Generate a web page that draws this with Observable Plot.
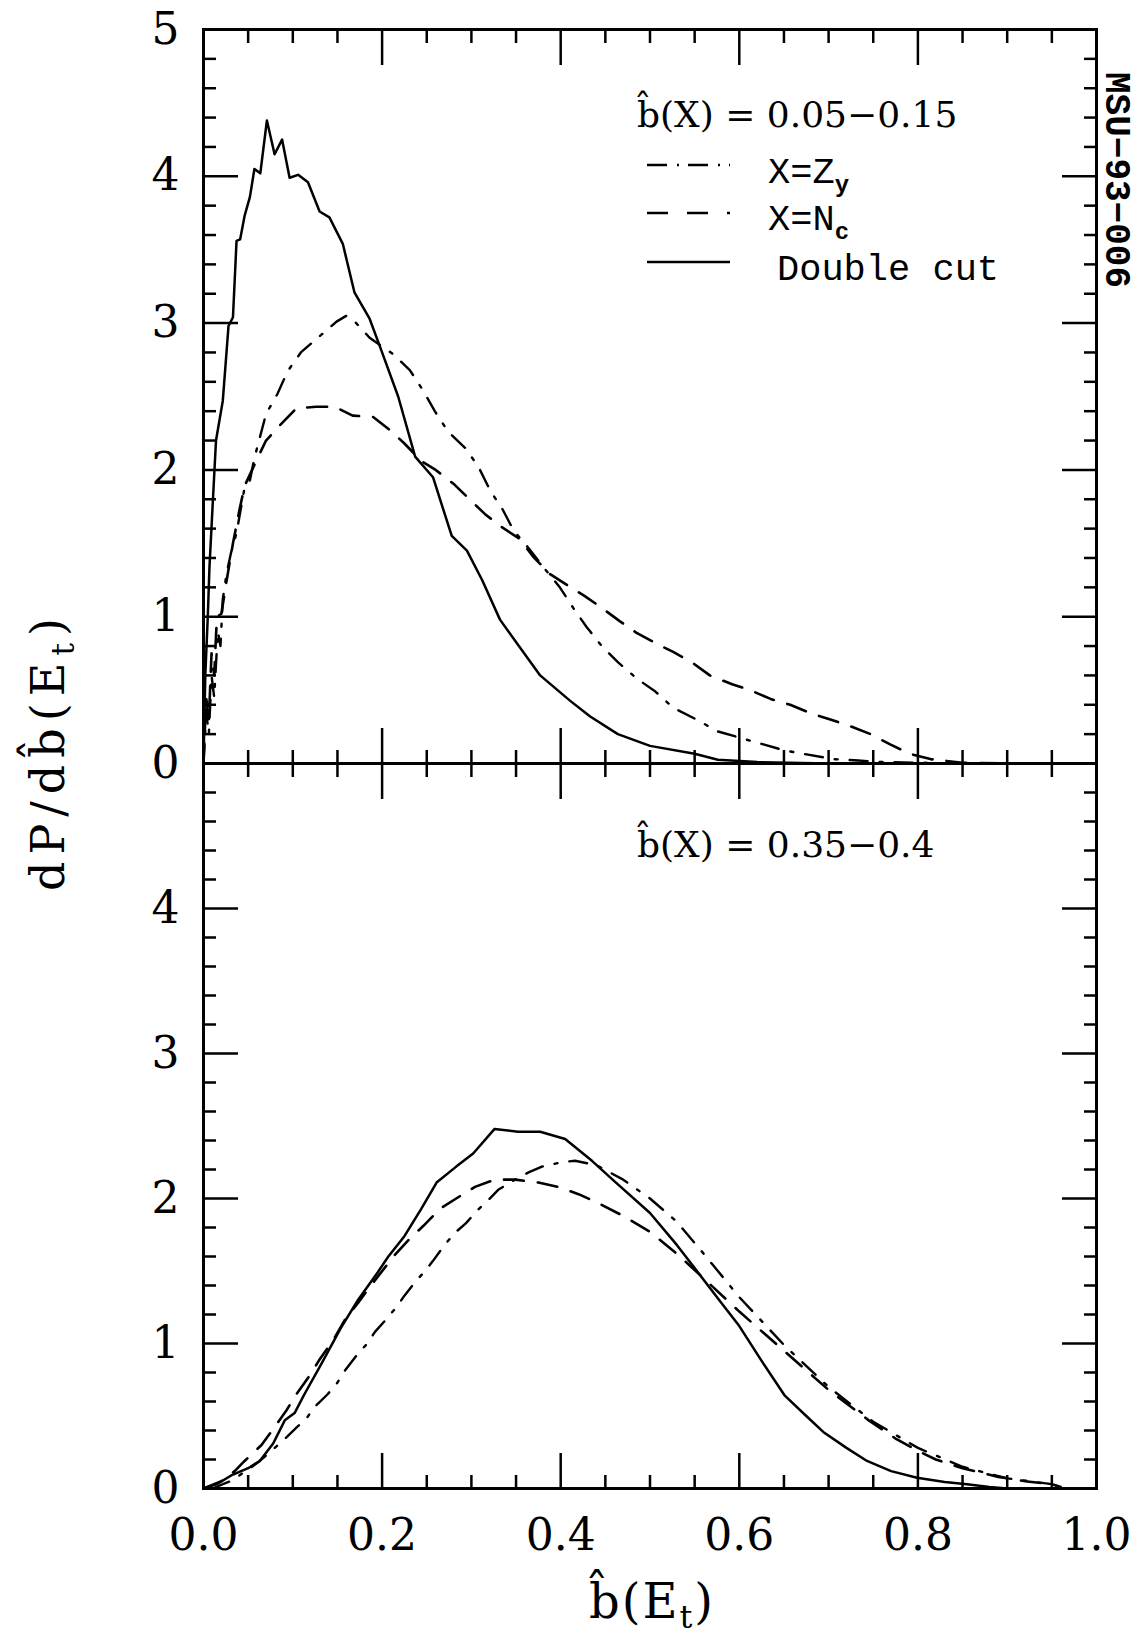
<!DOCTYPE html>
<html><head><meta charset="utf-8">
<script src="https://cdn.jsdelivr.net/npm/d3@7"></script>
<script src="https://cdn.jsdelivr.net/npm/@observablehq/plot@0.6"></script>
<style>
html,body{margin:0;padding:0;background:#fff;}
#wrap{position:relative;width:1137px;height:1639px;overflow:hidden;background:#fff;}
#wrap > svg{position:absolute;left:0;top:0;}
</style></head><body><div id="wrap"></div>
<script>
// ---- tick positions and labels ----
const xMajorTicks = [0, 0.2, 0.4, 0.6, 0.8, 1.0];
const xMinorTicks = [0.05, 0.1, 0.15, 0.25, 0.3, 0.35, 0.45, 0.5, 0.55, 0.65, 0.7, 0.75, 0.85, 0.9, 0.95];
const xTickLabels = [0, 0.2, 0.4, 0.6, 0.8, 1.0];
const yMajorTicks = [0, 1, 2, 3, 4, 5];
const yMinorTicks = [0.2, 0.4, 0.6, 0.8, 1.2, 1.4, 1.6, 1.8, 2.2, 2.4, 2.6, 2.8, 3.2, 3.4, 3.6, 3.8, 4.2, 4.4, 4.6, 4.8];
const topYLabels = [0, 1, 2, 3, 4, 5];
const bottomYLabels = [0, 1, 2, 3, 4];

// ---- series: top panel, b(X) = 0.05-0.15 ----
const topDouble = [[0,0],[0.002,0.6],[0.0048,1.0],[0.0067,1.34],[0.0105,1.79],[0.014,2.2],[0.0216,2.47],[0.028,2.98],[0.033,3.04],[0.037,3.56],[0.041,3.57],[0.046,3.73],[0.052,3.86],[0.057,4.05],[0.0636,4.02],[0.071,4.38],[0.0796,4.15],[0.088,4.25],[0.0964,3.99],[0.106,4.01],[0.117,3.96],[0.130,3.76],[0.141,3.72],[0.156,3.54],[0.169,3.21],[0.186,3.03],[0.197,2.85],[0.218,2.50],[0.237,2.09],[0.257,1.95],[0.278,1.55],[0.295,1.45],[0.312,1.25],[0.332,0.98],[0.377,0.60],[0.41,0.43],[0.433,0.32],[0.464,0.20],[0.5,0.12],[0.55,0.066],[0.576,0.025],[0.62,0.01],[0.7,0],[0.85,0]];
const topZy = [[0,0],[0.003,0.35],[0.006,0.2],[0.009,0.6],[0.012,0.45],[0.016,0.9],[0.019,0.8],[0.0216,1.12],[0.026,1.3],[0.031,1.44],[0.037,1.57],[0.046,1.88],[0.052,1.93],[0.057,2.08],[0.07,2.38],[0.083,2.52],[0.094,2.67],[0.109,2.80],[0.128,2.90],[0.149,3.01],[0.16,3.05],[0.171,3.0],[0.186,2.90],[0.212,2.79],[0.231,2.68],[0.246,2.54],[0.259,2.40],[0.274,2.26],[0.293,2.15],[0.308,2.02],[0.321,1.86],[0.335,1.73],[0.347,1.59],[0.365,1.46],[0.379,1.35],[0.399,1.20],[0.414,1.06],[0.429,0.93],[0.446,0.80],[0.464,0.69],[0.485,0.58],[0.506,0.49],[0.526,0.38],[0.552,0.30],[0.575,0.22],[0.601,0.175],[0.627,0.13],[0.65,0.09],[0.677,0.06],[0.705,0.03],[0.733,0.02],[0.76,0.01],[0.85,0]];
const topNc = [[0,0],[0.003,0.45],[0.006,0.3],[0.009,0.75],[0.012,0.6],[0.015,1.0],[0.02,1.02],[0.026,1.25],[0.033,1.5],[0.04,1.72],[0.046,1.89],[0.059,2.06],[0.07,2.2],[0.085,2.30],[0.104,2.42],[0.126,2.43],[0.147,2.43],[0.167,2.37],[0.19,2.36],[0.209,2.27],[0.225,2.18],[0.244,2.06],[0.26,2.0],[0.281,1.9],[0.298,1.80],[0.315,1.70],[0.334,1.61],[0.354,1.53],[0.369,1.41],[0.388,1.29],[0.406,1.22],[0.427,1.14],[0.446,1.06],[0.466,0.97],[0.485,0.89],[0.506,0.82],[0.526,0.76],[0.549,0.68],[0.567,0.60],[0.592,0.54],[0.612,0.50],[0.635,0.44],[0.657,0.40],[0.681,0.34],[0.702,0.30],[0.726,0.25],[0.747,0.20],[0.769,0.13],[0.791,0.066],[0.814,0.03],[0.85,0.005],[0.9,0]];

// ---- series: bottom panel, b(X) = 0.35-0.4 ----
const botDouble = [[0,0],[0.015,0.03],[0.031,0.09],[0.05,0.14],[0.063,0.19],[0.078,0.31],[0.091,0.47],[0.102,0.52],[0.113,0.65],[0.132,0.86],[0.154,1.11],[0.173,1.30],[0.195,1.49],[0.207,1.60],[0.225,1.74],[0.244,1.93],[0.261,2.11],[0.283,2.22],[0.302,2.31],[0.326,2.48],[0.352,2.46],[0.377,2.46],[0.405,2.41],[0.435,2.26],[0.46,2.12],[0.5,1.90],[0.53,1.68],[0.55,1.52],[0.58,1.28],[0.6,1.12],[0.625,0.88],[0.651,0.64],[0.675,0.50],[0.694,0.39],[0.72,0.28],[0.743,0.19],[0.77,0.12],[0.799,0.074],[0.83,0.045],[0.855,0.03],[0.88,0.01],[0.9,0]];
const botZy = [[0.01,0],[0.03,0.05],[0.05,0.13],[0.063,0.19],[0.076,0.26],[0.089,0.33],[0.104,0.42],[0.115,0.48],[0.124,0.56],[0.139,0.65],[0.15,0.73],[0.158,0.81],[0.173,0.93],[0.182,0.99],[0.192,1.08],[0.205,1.17],[0.216,1.25],[0.225,1.33],[0.238,1.43],[0.248,1.50],[0.257,1.57],[0.27,1.68],[0.281,1.76],[0.294,1.83],[0.307,1.92],[0.319,1.99],[0.33,2.06],[0.349,2.13],[0.364,2.18],[0.379,2.22],[0.401,2.25],[0.416,2.26],[0.44,2.23],[0.47,2.13],[0.5,2.0],[0.53,1.84],[0.56,1.62],[0.6,1.32],[0.65,0.99],[0.7,0.70],[0.75,0.46],[0.8,0.28],[0.85,0.15],[0.9,0.07],[0.95,0.03],[0.96,0.01]];
const botNc = [[0,0],[0.02,0.05],[0.035,0.12],[0.046,0.19],[0.065,0.30],[0.078,0.41],[0.093,0.54],[0.104,0.65],[0.119,0.78],[0.13,0.89],[0.145,1.02],[0.158,1.16],[0.173,1.28],[0.19,1.42],[0.214,1.61],[0.229,1.71],[0.246,1.81],[0.265,1.93],[0.283,2.0],[0.304,2.08],[0.326,2.13],[0.349,2.13],[0.375,2.11],[0.397,2.08],[0.42,2.03],[0.438,1.98],[0.47,1.88],[0.5,1.77],[0.53,1.62],[0.56,1.45],[0.6,1.22],[0.65,0.95],[0.7,0.68],[0.745,0.47],[0.776,0.34],[0.8,0.26],[0.82,0.2],[0.85,0.14],[0.89,0.08],[0.92,0.05],[0.95,0.03],[0.96,0.01]];

// ---- text ----
const topTitle = "b\u0302(X) = 0.05\u22120.15";
const bottomTitle = "b\u0302(X) = 0.35\u22120.4";
const legendLabels = [["X=Z", "y"], ["X=N", "c"], ["Double cut", ""]];
const sideNote = "MSU\u221293\u2212006";

const W = 1137, H = 1639;
const numFont = "DejaVu Serif";
const ZY_DASH = "18 12 3 12", NC_DASH = "20 14";

function panel(mTop, mBottom, dbl, zy, nc, yLabels, showX) {
  const tickCommon = {stroke: "black", strokeWidth: 2.5, tickFormat: () => "", label: null};
  const marks = [
    Plot.axisX({...tickCommon, anchor: "bottom", ticks: xMajorTicks, tickSize: -35}),
    Plot.axisX({...tickCommon, anchor: "bottom", ticks: xMinorTicks, tickSize: -13}),
    Plot.axisX({...tickCommon, anchor: "top", ticks: xMajorTicks, tickSize: -35}),
    Plot.axisX({...tickCommon, anchor: "top", ticks: xMinorTicks, tickSize: -13}),
    Plot.axisY({...tickCommon, anchor: "left", ticks: yMajorTicks, tickSize: -35}),
    Plot.axisY({...tickCommon, anchor: "left", ticks: yMinorTicks, tickSize: -13}),
    Plot.axisY({...tickCommon, anchor: "right", ticks: yMajorTicks, tickSize: -35}),
    Plot.axisY({...tickCommon, anchor: "right", ticks: yMinorTicks, tickSize: -13}),
    Plot.axisY({anchor: "left", ticks: yLabels, tickSize: 0, tickPadding: 24, tickFormat: d3.format("d"), label: null, fontSize: 44, fontFamily: numFont, fill: "black"}),
    Plot.frame({stroke: "black", strokeWidth: 3}),
    Plot.line(nc, {x: d => d[0], y: d => d[1], stroke: "black", strokeWidth: 2.6, strokeDasharray: NC_DASH}),
    Plot.line(zy, {x: d => d[0], y: d => d[1], stroke: "black", strokeWidth: 2.4, strokeDasharray: ZY_DASH}),
    Plot.line(dbl, {x: d => d[0], y: d => d[1], stroke: "black", strokeWidth: 2.5})
  ];
  if (showX) marks.push(Plot.axisX({anchor: "bottom", ticks: xTickLabels, tickSize: 0, tickPadding: 30, tickFormat: d3.format(".1f"), label: null, fontSize: 44, fontFamily: numFont, fill: "black"}));
  return Plot.plot({
    width: W, height: H,
    marginLeft: 203, marginRight: 41, marginTop: mTop, marginBottom: mBottom,
    x: {domain: [0, 1]}, y: {domain: [0, 5]},
    style: {background: "transparent", overflow: "visible", fontFamily: numFont},
    marks
  });
}

const wrap = document.getElementById("wrap");
wrap.appendChild(panel(29, H - 763, topDouble, topZy, topNc, topYLabels, false));
wrap.appendChild(panel(763, H - 1488, botDouble, botZy, botNc, bottomYLabels, true));

// overlay: titles, legend, side note
const ns = "http://www.w3.org/2000/svg";
const ov = document.createElementNS(ns, "svg");
ov.setAttribute("width", W); ov.setAttribute("height", H);
ov.setAttribute("viewBox", `0 0 ${W} ${H}`);
const legendDashes = ["20 10 2 9", "21 19", null];
let s = "";
s += `<text x="637" y="127" font-family="${numFont}" font-size="36">${topTitle}</text>`;
s += `<text x="637" y="857" font-family="${numFont}" font-size="36">${bottomTitle}</text>`;
const ly = [165, 213, 262], ty = [183, 230, 280], tx = [768, 768, 777];
legendLabels.forEach((lab, i) => {
  s += `<line x1="647" x2="730" y1="${ly[i]}" y2="${ly[i]}" stroke="black" stroke-width="2.5"${legendDashes[i] ? ` stroke-dasharray="${legendDashes[i]}"` : ""}/>`;
  s += `<text x="${tx[i]}" y="${ty[i]}" font-family="Liberation Mono" font-size="37">${lab[0]}${lab[1] ? `<tspan dy="9" font-size="24" font-weight="bold">${lab[1]}</tspan>` : ""}</text>`;
});
s += `<text transform="translate(1106,72) rotate(90)" font-family="Liberation Mono" font-weight="bold" font-size="36">${sideNote}</text>`;
s += `<text transform="translate(64,751) rotate(-90)" text-anchor="middle" font-family="${numFont}" font-size="46" letter-spacing="7">dP/db\u0302(E<tspan dy="10" font-size="32">t</tspan><tspan dy="-10">)</tspan></text>`;
s += `<text x="652" y="1618" text-anchor="middle" font-family="${numFont}" font-size="48" letter-spacing="2">b\u0302(E<tspan dy="10" font-size="32">t</tspan><tspan dy="-10">)</tspan></text>`;
ov.innerHTML = s;
ov.style.position = "absolute"; ov.style.left = "0"; ov.style.top = "0";
wrap.appendChild(ov);
</script>
</body></html>
